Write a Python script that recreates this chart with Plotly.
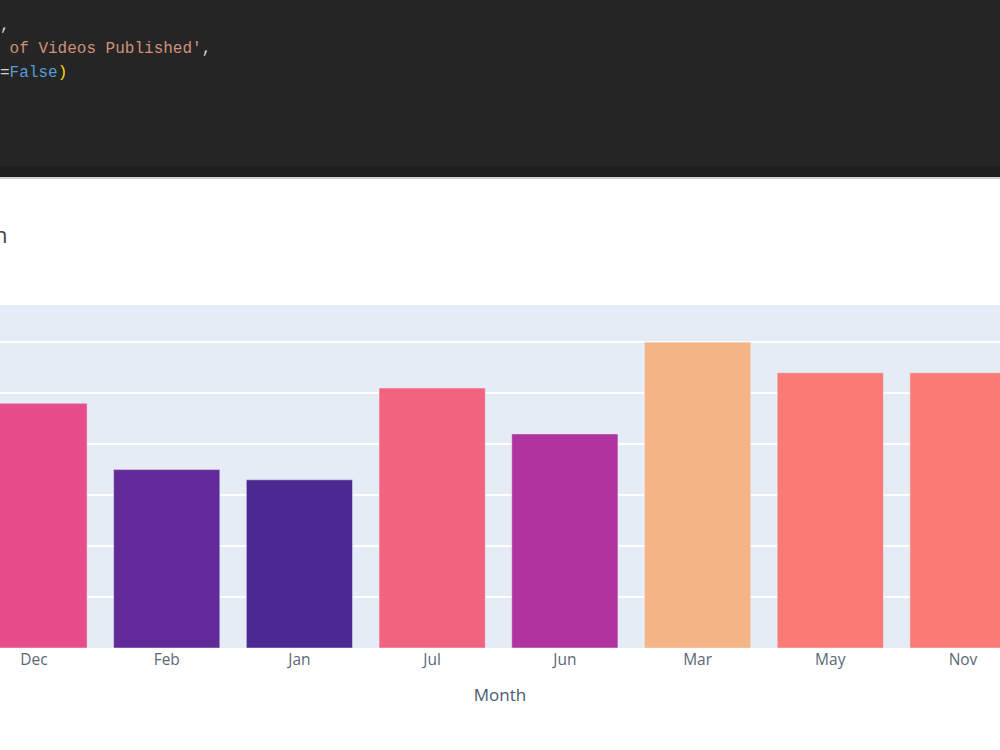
import plotly.graph_objects as go

# Data
months = ["Dec", "Feb", "Jan", "Jul", "Jun", "Mar", "May", "Nov"]
videos = [48, 35, 33, 51, 42, 60, 54, 54]

W, H = 1000, 750
T, B = 305, 648  # plot top / bottom in pixels


def py(p):
    """pixel row -> paper y"""
    return (B - p) / (B - T)


def px(p):
    return p / W


fig = go.Figure(
    go.Bar(
        x=months,
        y=videos,
        marker=dict(
            color=videos,
            colorscale="Agsunset",
            cmin=33,
            cmax=64,
            showscale=False,
            line=dict(width=0.5, color="#E5ECF6"),
        ),
    )
)

# code editor strip at the top of the screenshot
fig.add_shape(type="rect", xref="paper", yref="paper", x0=-0.01, x1=1.01,
              y0=py(166), y1=py(-2), fillcolor="#252526", line_width=0, layer="above")
fig.add_shape(type="rect", xref="paper", yref="paper", x0=-0.01, x1=1.01,
              y0=py(177), y1=py(166), fillcolor="#1e1e1e", line_width=0, layer="above")
fig.add_shape(type="rect", xref="paper", yref="paper", x0=-0.01, x1=1.01,
              y0=py(179), y1=py(177), fillcolor="#d0d0d0", line_width=0, layer="above")

code_font = dict(family="Liberation Mono, DejaVu Sans Mono, monospace", size=16, color="#D4D4D4")
lines = [
    (26, ","),
    (49, '<span style="color:#CE9178"> of Videos Published\'</span>,'),
    (73, '=<span style="color:#569CD6">False</span><span style="color:#FFD700">)</span>'),
]
for yy, txt in lines:
    fig.add_annotation(xref="paper", yref="paper", x=px(-2), y=py(yy),
                       xanchor="left", yanchor="middle", text=txt,
                       showarrow=False, font=code_font)

# visible part of the title
fig.add_annotation(xref="paper", yref="paper", x=px(-8), y=py(234),
                   xanchor="left", yanchor="middle", text="n", showarrow=False,
                   font=dict(family="Open Sans, sans-serif", size=22, color="#444444"))

fig.update_layout(
    width=W,
    height=H,
    margin=dict(l=0, r=0, t=T, b=H - B, pad=0),
    paper_bgcolor="white",
    plot_bgcolor="#E5ECF6",
    showlegend=False,
    font=dict(family="Open Sans, sans-serif", color="#2a3f5f"),
    bargap=0.2,
)
fig.update_xaxes(
    range=[-34 / 132.7, 7 + 37 / 132.7],
    title=dict(text="Month", font=dict(size=17, color="#4a5a6e"), standoff=20),
    tickfont=dict(size=15.5, color="#5a6878"),
    showgrid=False,
)
fig.update_yaxes(
    range=[0, 67.3],
    dtick=10,
    showticklabels=False,
    gridcolor="white",
    gridwidth=2,
    zeroline=False,
)

fig.write_html("out.html")
